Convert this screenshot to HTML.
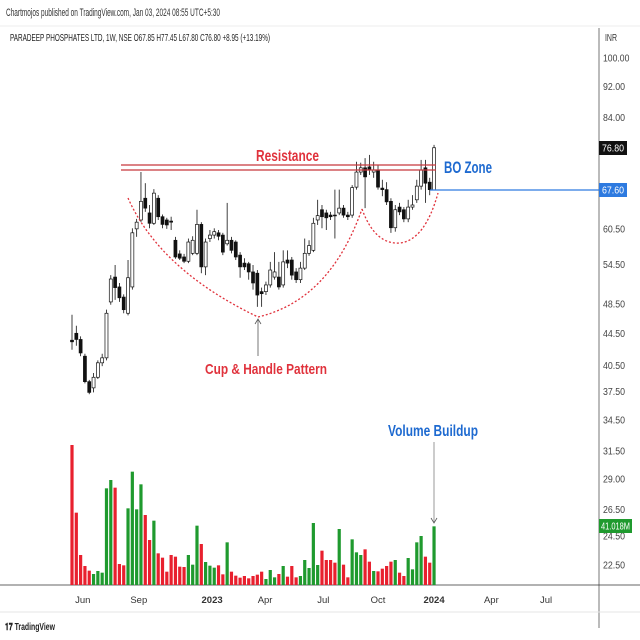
<!DOCTYPE html>
<html><head><meta charset="utf-8"><style>
html,body{margin:0;padding:0;background:#fff;width:640px;height:640px;overflow:hidden}
svg text{font-family:"Liberation Sans",sans-serif}
</style></head><body>
<svg id="c" width="640" height="640" viewBox="0 0 640 640" xmlns="http://www.w3.org/2000/svg">
<text x="6" y="16" font-size="11" fill="#333" textLength="214" lengthAdjust="spacingAndGlyphs">Chartmojos published on TradingView.com, Jan 03, 2024 08:55 UTC+5:30</text>
<line x1="0" y1="26" x2="640" y2="26" stroke="#eee"/>
<text x="10" y="41" font-size="10.5" fill="#222" textLength="260" lengthAdjust="spacingAndGlyphs">PARADEEP PHOSPHATES LTD, 1W, NSE  O67.85  H77.45  L67.80  C76.80  +8.95 (+13.19%)</text>
<text x="605" y="41" font-size="10" fill="#333" textLength="12" lengthAdjust="spacingAndGlyphs">INR</text>
<line x1="599" y1="28" x2="599" y2="628" stroke="#555" stroke-width="0.8"/>
<line x1="0" y1="585" x2="640" y2="585" stroke="#333" stroke-width="0.8"/>
<line x1="0" y1="612" x2="640" y2="612" stroke="#e6e6e6"/>
<g id="axis"></g><g id="vol"></g><g id="candles"></g>
<line x1="121" y1="165" x2="436" y2="165" stroke="#c8383c" stroke-width="1.2"/>
<line x1="121" y1="170" x2="436" y2="170" stroke="#c8383c" stroke-width="1.2"/>
<text x="256" y="161" font-size="16" font-weight="bold" fill="#e0323c" textLength="63" lengthAdjust="spacingAndGlyphs">Resistance</text>
<text x="444" y="173" font-size="17" font-weight="bold" fill="#1e6ad0" textLength="48" lengthAdjust="spacingAndGlyphs">BO Zone</text>
<line x1="430" y1="190" x2="599" y2="190" stroke="#2d7ae0" stroke-width="1.2"/>
<path d="M128,198 Q160,270 258,317 Q330,300 362,209" fill="none" stroke="#e0323c" stroke-width="1.3" stroke-dasharray="2,2"/>
<path d="M362,209 Q375,245 400,243 Q425,240 438,193" fill="none" stroke="#e0323c" stroke-width="1.3" stroke-dasharray="2,2"/>
<line x1="258" y1="356" x2="258" y2="320" stroke="#555" stroke-width="0.8"/>
<path d="M255,324 L258,319 L261,324" fill="none" stroke="#555" stroke-width="0.8"/>
<text x="205" y="374" font-size="15" font-weight="bold" fill="#e0323c" textLength="122" lengthAdjust="spacingAndGlyphs">Cup &amp; Handle Pattern</text>
<text x="388" y="436" font-size="16" font-weight="bold" fill="#1e6ad0" textLength="90" lengthAdjust="spacingAndGlyphs">Volume Buildup</text>
<line x1="434" y1="442" x2="434" y2="522" stroke="#999" stroke-width="1"/>
<path d="M431,518 L434,523 L437,518" fill="none" stroke="#555" stroke-width="0.8"/>
<rect x="599" y="141" width="28" height="14" fill="#111"/>
<text x="602" y="151.5" font-size="10" fill="#fff" textLength="22" lengthAdjust="spacingAndGlyphs">76.80</text>
<rect x="599" y="183" width="28" height="14" fill="#2d7ae0"/>
<text x="602" y="193.5" font-size="10" fill="#fff" textLength="22" lengthAdjust="spacingAndGlyphs">67.60</text>
<rect x="599" y="519" width="33" height="14" fill="#1f9a2e"/>
<text x="601" y="529.5" font-size="10" fill="#fff" textLength="29" lengthAdjust="spacingAndGlyphs">41.018M</text>
<text x="5" y="630" font-size="10" font-weight="bold" fill="#222" textLength="50" lengthAdjust="spacingAndGlyphs">𝟏𝟕 TradingView</text>
</svg>
<script>
const opens=[43.6,44.5,43.7,41.6,38.6,37.9,39.1,40.8,41.4,48.8,52.5,51.0,49.5,47.2,51.0,60.5,62.1,66.2,63.4,61.5,66.2,62.7,62.1,61.9,58.5,56.2,55.7,55.0,56.3,56.3,61.3,54.1,58.8,59.4,59.8,59.4,57.9,58.5,58.2,56.0,54.7,54.6,53.3,53.1,50.3,50.3,51.3,52.5,52.5,51.3,55.2,55.2,53.3,52.1,53.9,56.3,56.8,62.1,64.0,63.4,63.0,63.0,63.4,64.3,63.0,63.0,68.4,71.5,72.4,72.6,71.5,71.9,68.2,67.9,65.6,60.7,64.5,64.0,62.3,64.5,65.9,68.6,72.4,69.4,67.85];
const closes=[43.4,43.7,42.0,38.6,37.4,39.1,40.8,41.4,47.2,52.2,50.9,49.4,47.7,52.4,59.8,61.7,65.6,64.3,61.5,67.2,62.7,61.3,61.2,61.7,55.7,55.5,55.0,58.2,58.5,61.3,54.1,58.2,59.4,60.0,59.2,56.5,58.5,56.8,55.7,54.1,54.1,53.3,51.6,49.8,50.0,51.3,53.6,53.3,51.0,54.9,54.7,52.8,52.1,53.9,56.3,57.6,61.5,62.9,62.7,62.5,62.7,62.9,64.3,63.0,62.7,68.3,71.5,72.4,70.5,71.9,71.9,68.4,67.9,65.5,60.7,64.0,63.6,62.3,64.5,64.9,68.6,71.9,69.2,67.9,76.8];
const highs=[47.0,45.5,44.1,41.9,38.8,39.6,41.1,41.9,47.7,52.8,54.4,51.6,49.9,55.2,60.6,62.3,71.5,69.2,64.9,68.0,66.8,63.1,62.5,62.7,59.1,56.8,56.2,58.8,59.2,64.0,61.7,58.8,60.3,60.6,60.3,59.8,65.3,59.1,58.5,56.5,55.5,54.9,54.4,53.6,50.9,51.8,54.9,56.5,54.9,56.8,56.8,55.7,53.9,54.9,58.8,58.5,62.5,65.9,64.9,64.0,63.6,67.9,67.9,64.9,63.6,68.8,73.7,73.5,74.5,75.2,73.7,72.9,69.9,69.4,66.2,64.9,65.3,64.5,65.9,66.8,69.9,74.1,74.1,70.3,77.45];
const lows=[42.4,42.9,41.6,38.4,37.2,37.4,38.9,40.4,41.1,48.4,49.1,48.8,47.2,46.9,50.6,59.1,61.7,63.6,60.6,61.2,62.1,60.6,60.5,60.3,55.4,55.2,54.7,54.7,56.0,56.0,53.1,52.8,58.2,58.8,58.5,56.0,57.6,56.3,55.2,52.4,53.6,52.1,50.6,48.1,48.1,49.8,50.9,52.1,50.6,50.9,53.9,52.1,51.6,51.6,53.6,55.9,56.5,61.2,60.6,60.3,62.1,58.8,63.0,62.5,62.1,62.5,67.9,70.9,64.3,70.9,70.3,67.9,66.6,64.9,59.8,60.0,63.0,61.7,61.7,64.0,65.3,67.9,65.3,66.8,67.8];
// volume in relative units (last bar = 41.018M)
const volumes=[420,217,90,57,43,33,42,37,290,315,292,63,59,230,340,227,302,210,135,193,95,82,40,90,85,55,54,90,61,178,123,69,58,52,59,32,128,40,28,22,27,20,27,31,40,18,45,23,33,57,25,57,23,27,75,51,186,60,103,75,75,67,168,61,23,137,98,90,107,70,42,41,49,57,70,75,37,27,81,47,128,147,85,67,176];
const priceTicks=[100,92,84,60.5,54.5,48.5,44.5,40.5,37.5,34.5,31.5,29,26.5,24.5,22.5];
const timeLabels=["Jun","Sep","2023","Apr","Jul","Oct","2024","Apr","Jul"];
const timeIdx=[2.5,15.5,32.5,44.8,58.3,71,84,97.3,110];

const NS="http://www.w3.org/2000/svg";
const xAt=i=>72+4.31*i;
const yP=p=>58+340*Math.log(100/p);
const yV=v=>585-v/3;
function mk(t,a,parent){const e=document.createElementNS(NS,t);for(const k in a)e.setAttribute(k,a[k]);parent.appendChild(e);return e;}
const axis=document.getElementById('axis'),volG=document.getElementById('vol'),cG=document.getElementById('candles');
priceTicks.forEach(p=>{
  const s=p.toFixed(2);
  const t=mk('text',{x:603,y:yP(p)+3.5,'font-size':10,fill:'#444',textLength:s.length*4.4,lengthAdjust:'spacingAndGlyphs'},axis);
  t.textContent=s;
  
  
});
timeLabels.forEach((l,k)=>{
  const bold=/^\d/.test(l);
  const t=mk('text',{x:xAt(timeIdx[k]),y:603,'font-size':9.5,fill:'#333','text-anchor':'middle','font-weight':bold?'bold':'normal'},axis);
  t.textContent=l;
  
  
});
volumes.forEach((v,i)=>{
  const up=closes[i]>=opens[i];
  const r=mk('rect',{x:xAt(i)-1.6,y:yV(v),width:3.2,height:585-yV(v),fill:up?'#1f9a2e':'#e8202e'},volG);
  
  
});
opens.forEach((o,i)=>{
  const c=closes[i],x=xAt(i),up=c>=o;
  const g=mk('g',{},cG);
  
  
  mk('line',{x1:x,x2:x,y1:yP(highs[i]),y2:yP(lows[i]),stroke:'#111','stroke-width':0.8},g);
  const top=yP(Math.max(o,c)),bot=yP(Math.min(o,c));
  mk('rect',{x:x-1.5,y:top,width:3,height:Math.max(bot-top,0.8),fill:up?'#fff':'#111',stroke:'#111','stroke-width':0.7},g);
});
</script>
</body></html>
